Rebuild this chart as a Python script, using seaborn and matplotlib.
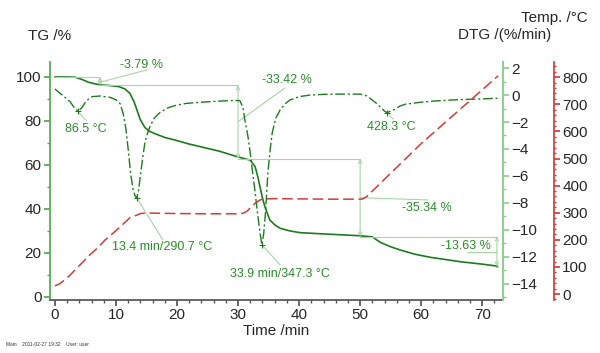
import numpy as np
import pandas as pd
import matplotlib
matplotlib.use("Agg")
import matplotlib.pyplot as plt
import seaborn as sns
from matplotlib.ticker import MultipleLocator

# TG curve (mass %, vs time in min)
tg_time = [0, 2, 3.3, 4.5, 5.5, 6.5, 7.5, 9, 10.5, 11.5, 12.3, 13, 13.5, 14, 14.75,
           15.5, 16.4, 18, 19.7, 22, 24, 27, 29.8, 31, 32, 32.8, 33.2, 33.6, 34,
           34.4, 35.2, 36, 36.9, 38.5, 40.2, 45, 50, 52, 53.3, 55, 56.6, 59, 61.5,
           64, 66.4, 70, 72.5]
tg_mass = [100.0, 100.0, 99.9, 98.8, 97.6, 96.9, 96.4, 96.1, 95.6, 94.5, 92.5, 88.5,
           84.5, 80.5, 77.0, 75.3, 74.2, 72.5, 71.3, 69.5, 68.2, 66.2, 63.8, 62.9,
           62.2, 59.2, 55.0, 50.0, 45.0, 41.0, 35.0, 32.8, 31.2, 30.0, 29.2, 28.5,
           27.8, 27.3, 24.8, 22.8, 21.3, 19.4, 18.0, 17.0, 16.0, 14.9, 14.0]

# DTG curve (%/min)
dtg_time = [0, 0.8, 1.6, 2.5, 3.2, 3.8, 4.4, 4.9, 5.5, 6.1, 7.4, 9, 10, 10.7, 11.2,
            11.6, 12, 12.4, 12.8, 13.2, 13.4, 13.7, 14, 14.4, 14.75, 15.2, 15.6,
            16.3, 17.2, 18.5, 19.7, 21.5, 23.8, 26.5, 29.5, 30.3, 30.8, 31.1, 31.6,
            32, 32.4, 32.8, 33.2, 33.6, 33.9, 34.2, 34.5, 34.9, 35.3, 35.6, 36.2,
            36.9, 37.7, 38.5, 40, 41.8, 44, 46.7, 50, 51, 51.6, 52.5, 53.3, 54,
            54.4, 55, 55.7, 56.5, 57.4, 59.8, 62, 64.8, 67, 69.7, 72.5]
dtg_rate = [0.45, 0.15, -0.15, -0.5, -0.95, -1.22, -0.95, -0.6, -0.3, -0.12, -0.07,
            -0.17, -0.35, -0.65, -1.4, -2.4, -4.0, -5.8, -7.0, -7.55, -7.62, -7.1,
            -6.0, -4.6, -3.5, -2.8, -2.3, -1.7, -1.3, -0.95, -0.78, -0.62, -0.54,
            -0.46, -0.4, -0.42, -0.9, -1.8, -3.0, -4.3, -5.8, -7.2, -8.8, -10.2,
            -11.1, -10.3, -8.7, -5.7, -3.9, -2.8, -1.7, -1.1, -0.65, -0.37, -0.12,
            0.0, 0.05, 0.07, 0.07, -0.05, -0.24, -0.55, -0.88, -1.2, -1.3, -1.2,
            -1.05, -0.82, -0.68, -0.54, -0.45, -0.37, -0.33, -0.29, -0.24]

# Temperature programme (deg C)
temp_time = [0, 0.8, 1.6, 2.5, 3.3, 4.5, 5.7, 7, 8.2, 9.5, 10.7, 12.3, 13.4, 14, 15,
             17, 20, 25, 30, 30.8, 31.5, 32, 32.8, 33.6, 34.2, 36, 40, 45, 50.3,
             51, 60, 72.6]
temp_val = [30, 38, 52, 70, 89, 116, 144, 170, 199, 224, 248, 282, 291, 297, 299,
            298, 297, 296, 296, 298, 306, 318, 335, 347, 351, 352, 351, 350, 350,
            358, 555, 805]

# mass-loss steps: (time, upper level, lower level, label)
step_time = [7.4, 30.0, 50.0, 72.4]
step_upper = [100.0, 96.21, 62.79, 27.45]
step_lower = [96.21, 62.79, 27.45, 13.82]
step_label = ["-3.79 %", "-33.42 %", "-35.34 %", "-13.63 %"]

# DTG peaks
peak_time = [3.8, 13.4, 33.9, 54.4]
peak_rate = [-1.22, -7.62, -11.1, -1.3]
peak_label = ["86.5 °C", "13.4 min/290.7 °C", "33.9 min/347.3 °C", "428.3 °C"]

dark_green = "#1f7a1f"
text_green = "#2a8c2a"
ann_green = "#a8d4a8"
red = "#d23c3c"

sns.set_theme(style="white")
plt.rcParams["font.family"] = ["Liberation Sans", "DejaVu Sans"]

fig = plt.figure(figsize=(6, 3.53), dpi=100)
ax = fig.add_axes([50 / 600, 53 / 353, 453 / 600, 238 / 353])
ax2 = ax.twinx()
ax3 = ax.twinx()

tg = pd.DataFrame({"t": tg_time, "v": tg_mass})
dtg = pd.DataFrame({"t": dtg_time, "v": dtg_rate})
temp = pd.DataFrame({"t": temp_time, "v": temp_val})

sns.lineplot(data=tg, x="t", y="v", ax=ax, color=dark_green, lw=1.2, sort=False)
sns.lineplot(data=dtg, x="t", y="v", ax=ax2, color=dark_green, lw=1.0, sort=False,
             linestyle=(0, (7, 2, 1.5, 2)))
sns.lineplot(data=temp, x="t", y="v", ax=ax3, color=red, lw=1.1, sort=False,
             linestyle=(0, (7, 3)))

ax.set_xlim(-0.8, 73.4)
ax.set_ylim(-1.4, 106.8)
ax2.set_ylim(-15.2, 2.45)
ax3.set_ylim(-22, 856)

# step annotations on the TG axis
prev_t = 0.0
for i in range(len(step_time)):
    t = step_time[i]
    ax.plot([prev_t, t], [step_upper[i], step_upper[i]], color=ann_green, lw=0.8)
    ax.annotate("", xy=(t, step_lower[i]), xytext=(t, step_upper[i]),
                arrowprops=dict(arrowstyle="<->", color=ann_green, lw=0.8,
                                shrinkA=0, shrinkB=0, mutation_scale=6))
    prev_t = t
ax.plot([step_time[-1] - 0.1, step_time[-1] + 0.1], [step_lower[-1]] * 2,
        color=ann_green, lw=0.8)

leaders = [((7.4, 97.6), (15.2, 103.3)), ((30.0, 79.7), (37.7, 95.0)),
           ((50.0, 45.1), (61.1, 44.1)), ((72.4, 20.6), (67.5, 20.6))]
label_pos = [(10.7, 105.4), (33.9, 98.6), (56.9, 40.5), (63.3, 23.2)]
for i in range(len(step_label)):
    (x0, y0), (x1, y1) = leaders[i]
    ax.plot([x0, x1], [y0, y1], color=ann_green, lw=0.8)
    ax.text(label_pos[i][0], label_pos[i][1], step_label[i], color=text_green,
            fontsize=9, va="center", ha="left")

# peak annotations
peak_leader_end = [(5.2, 80.0), (17.7, 25.9), (36.9, 14.5), (55.4, 80.9)]
peak_text_pos = [(1.6, 76.4), (9.3, 22.7), (28.7, 10.5), (51.1, 77.3)]
for i in range(len(peak_label)):
    ax2.plot(peak_time[i], peak_rate[i], marker="+", ms=4, color=dark_green, mew=0.8)
    px, py = ax.transData.inverted().transform(
        ax2.transData.transform((peak_time[i], peak_rate[i])))
    ax.plot([px, peak_leader_end[i][0]], [py, peak_leader_end[i][1]],
            color=ann_green, lw=0.8)
    ax.text(peak_text_pos[i][0], peak_text_pos[i][1], peak_label[i], color=text_green,
            fontsize=9, va="center", ha="left")

# axes styling
for a in (ax, ax2, ax3):
    a.set_xlabel("")
    a.set_ylabel("")
    for s in a.spines.values():
        s.set_visible(False)

ax.spines["left"].set_visible(True)
ax.spines["left"].set_color("#4caf4c")
ax.spines["bottom"].set_visible(True)
ax.spines["bottom"].set_color("#555555")
ax2.spines["right"].set_visible(True)
ax2.spines["right"].set_color("#8fd08f")
ax2.spines["right"].set_linewidth(1.5)
ax3.spines["right"].set_visible(True)
ax3.spines["right"].set_color(red)
ax3.spines["right"].set_position(("outward", 51 * 0.72))

ax.xaxis.set_major_locator(MultipleLocator(10))
ax.xaxis.set_minor_locator(MultipleLocator(2))
ax.yaxis.set_major_locator(MultipleLocator(20))
ax.yaxis.set_minor_locator(MultipleLocator(10))
ax2.yaxis.set_major_locator(MultipleLocator(2))
ax2.yaxis.set_minor_locator(MultipleLocator(1))
ax3.yaxis.set_major_locator(MultipleLocator(100))
ax3.yaxis.set_minor_locator(MultipleLocator(20))

ax.tick_params(axis="x", which="both", bottom=True, direction="out", labelsize=11,
               color="#555555", pad=2)
ax.tick_params(axis="x", which="major", length=4)
ax.tick_params(axis="x", which="minor", length=2)
ax.tick_params(axis="y", which="both", left=True, direction="out", labelsize=11,
               color="#4caf4c", pad=2)
ax.tick_params(axis="y", which="major", length=4)
ax.tick_params(axis="y", which="minor", length=2)
ax2.tick_params(axis="y", which="both", right=True, direction="out", labelsize=11,
                color="#8fd08f", pad=2)
ax2.tick_params(axis="y", which="major", length=4)
ax2.tick_params(axis="y", which="minor", length=2)
ax3.tick_params(axis="y", which="both", right=True, direction="out", labelsize=11,
                color=red, pad=2)
ax3.tick_params(axis="y", which="major", length=4)
ax3.tick_params(axis="y", which="minor", length=1.5)

ax.set_xlabel("Time /min", fontsize=11, labelpad=1)

fig.text(28 / 600, 1 - 36 / 353, "TG /%", fontsize=11, va="center", ha="left")
fig.text(551 / 600, 1 - 35 / 353, "DTG /(%/min)", fontsize=11, va="center", ha="right")
fig.text(588 / 600, 1 - 18 / 353, "Temp. /°C", fontsize=11, va="center", ha="right")
fig.text(6 / 600, 1 - 345 / 353, "Main    2011-02-27 19:32    User: user", fontsize=3.5,
         va="center", ha="left", color="#333333")

fig.savefig("out.png", dpi=100)
